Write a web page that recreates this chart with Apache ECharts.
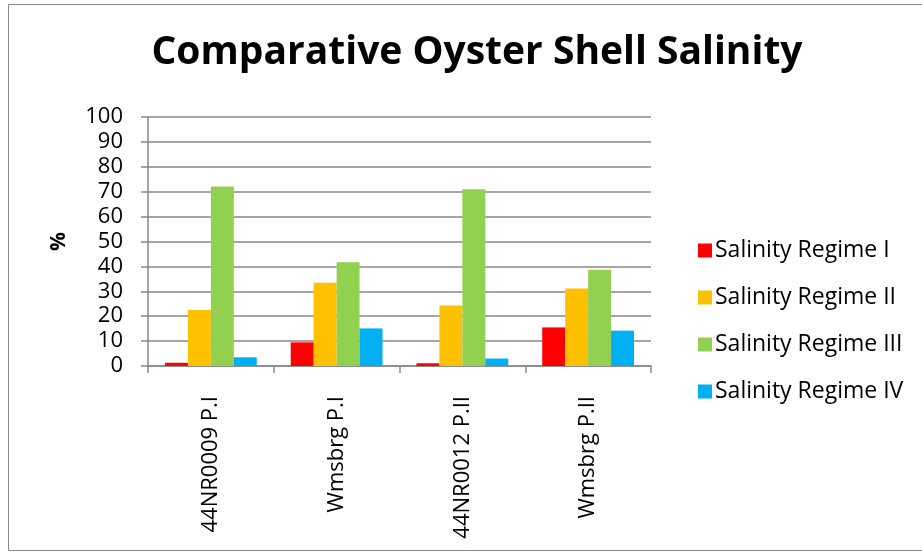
<!DOCTYPE html>
<html lang="en">
<head>
  <meta charset="UTF-8">
  <title>Comparative Oyster Shell Salinity</title>
  <style>
    body{
      margin: 0;
      background-color: #fff;
    }
    #chart{
      width: 922px;
      height: 552px;
    }
  </style>
</head>
<body>
  <div id="chart"></div>
  <script src="https://cdn.jsdelivr.net/npm/echarts@6/dist/echarts.min.js"></script>
  <script>
// data
let sites = ['44NR0009 P.I', 'Wmsbrg P.I', '44NR0012 P.II', 'Wmsbrg P.II'];
let regimeNames = ['Salinity Regime I', 'Salinity Regime II', 'Salinity Regime III', 'Salinity Regime IV'];
let regime1 = [1.3, 9.5, 1.1, 15.5];
let regime2 = [22.5, 33.4, 24.3, 31.1];
let regime3 = [72.1, 41.7, 71.0, 38.7];
let regime4 = [3.5, 15.1, 3.0, 14.2];
let yTicks = [0, 100, 10]; // min, max, step
let colors = ['#ff0000', '#ffc000', '#92d050', '#00b0f0'];

let font = 'Open Sans';
let chart = echarts.init(document.getElementById('chart'));

let values = [regime1, regime2, regime3, regime4];
let series = regimeNames.map((name, i) => ({
  name: name,
  type: 'bar',
  data: values[i],
  barGap: '0%',
  barCategoryGap: '27%',
  itemStyle: { color: colors[i] }
}));

chart.setOption({
  animation: false,
  title: {
    text: 'Comparative Oyster Shell Salinity',
    left: 472,
    textAlign: 'center',
    top: 28,
    textStyle: { fontFamily: font, fontWeight: 'bold', fontSize: 39, color: '#000' }
  },
  // outer frame of the chart
  graphic: [{
    type: 'rect',
    shape: { x: 8.5, y: 4.5, width: 940, height: 546 },
    style: { fill: 'none', stroke: '#888', lineWidth: 1 },
    silent: true
  }],
  legend: {
    orient: 'vertical',
    left: 693,
    top: 234,
    itemWidth: 14,
    itemHeight: 14,
    itemGap: 24,
    icon: 'rect',
    textStyle: { fontFamily: font, fontSize: 23, color: '#000', padding: [0, 0, 0, -2] }
  },
  grid: { left: 148, right: 271, top: 117, bottom: 186 },
  xAxis: {
    type: 'category',
    data: sites,
    axisLine: { lineStyle: { color: '#888', width: 1.5 } },
    axisTick: { show: true, length: 7, lineStyle: { color: '#888', width: 1.5 } },
    axisLabel: { rotate: 90, fontFamily: font, fontSize: 22, color: '#000', margin: 30 }
  },
  yAxis: {
    type: 'value',
    min: yTicks[0],
    max: yTicks[1],
    interval: yTicks[2],
    name: '%',
    nameLocation: 'middle',
    nameRotate: 90,
    nameGap: 78,
    nameTextStyle: { fontFamily: font, fontWeight: 'bold', fontSize: 21, color: '#000' },
    axisLine: { show: true, lineStyle: { color: '#888', width: 1.5 } },
    axisTick: { show: true, length: 7, lineStyle: { color: '#888', width: 1.5 } },
    splitLine: { lineStyle: { color: '#888', width: 1.5 } },
    axisLabel: { fontFamily: font, fontSize: 22, color: '#000', margin: 25 }
  },
  series: series
});
  </script>
</body>
</html>
